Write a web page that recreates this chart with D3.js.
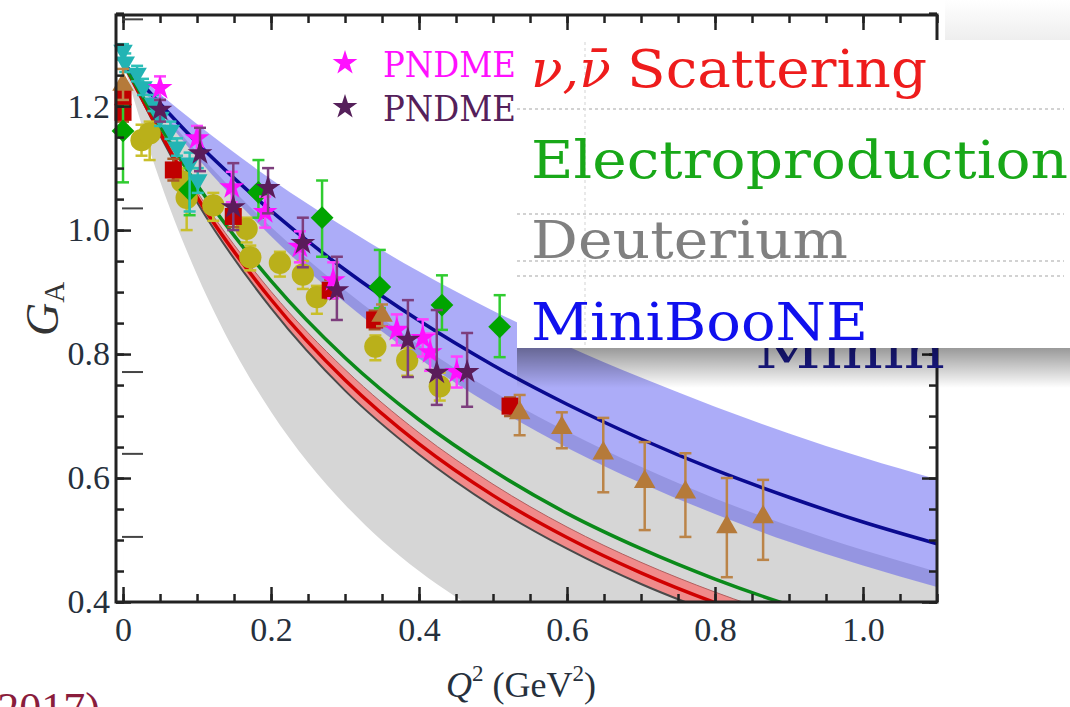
<!DOCTYPE html>
<html>
<head>
<meta charset="UTF-8">
<title>Axial form factor</title>
<script src="https://cdnjs.cloudflare.com/ajax/libs/d3/7.8.5/d3.min.js"></script>
<style>body{margin:0;background:#fff;}</style>
</head>
<body>
<div id="chart"></div>
<script>

// ---- curves (Q^2 grid 0 .. 1.1) ----
var qGrid   = [0, 0.1, 0.2, 0.3, 0.4, 0.5, 0.6, 0.7, 0.8, 0.9, 1.0, 1.1];
var blueMid = [1.27, 1.141, 1.031, 0.936, 0.854, 0.782, 0.719, 0.663, 0.613, 0.569, 0.529, 0.494];
var blueHi  = [1.27, 1.171, 1.082, 1.004, 0.933, 0.870, 0.813, 0.762, 0.715, 0.672, 0.633, 0.598];
var blueLo  = [1.27, 1.117, 0.990, 0.883, 0.793, 0.716, 0.649, 0.592, 0.542, 0.497, 0.459, 0.424];
var grayHi  = [1.27, 1.126, 1.005, 0.903, 0.815, 0.740, 0.675, 0.618, 0.567, 0.523, 0.484, 0.449];
var redMid  = [1.27, 1.053, 0.888, 0.758, 0.655, 0.572, 0.504, 0.447, 0.399, 0.359, 0.324, 0.294];
var redHi   = [1.27, 1.062, 0.901, 0.775, 0.673, 0.590, 0.521, 0.464, 0.416, 0.375, 0.340, 0.309];
var redLo   = [1.27, 1.045, 0.874, 0.741, 0.638, 0.554, 0.486, 0.429, 0.382, 0.342, 0.308, 0.279];
var greenMid= [1.27, 1.073, 0.918, 0.794, 0.694, 0.612, 0.543, 0.486, 0.437, 0.395, 0.359, 0.327];
var grayLoQ = [0, 0.05, 0.1, 0.15, 0.2, 0.25, 0.3, 0.35, 0.4, 0.45, 0.5, 0.6];
var grayLo  = [1.27, 1.079, 0.928, 0.806, 0.707, 0.625, 0.557, 0.499, 0.450, 0.408, 0.371, 0.311];

// ---- data points: [Q2, GA, low, high] ----
var cyanPts = [
  [0.000,1.290,1.275,1.300],[0.003,1.271,1.255,1.285],[0.019,1.253,1.240,1.265],
  [0.027,1.231,1.218,1.244],[0.041,1.205,1.192,1.218],[0.050,1.182,1.168,1.196],
  [0.064,1.161,1.147,1.175],[0.073,1.134,1.120,1.148],[0.090,1.108,1.030,1.125],
  [0.101,1.081,1.060,1.100]
];
var yellowPts = [
  [0.025,1.145,1.120,1.170],[0.036,1.156,1.113,1.175],[0.080,1.078,1.050,1.100],
  [0.086,1.052,1.000,1.070],[0.122,1.040,1.015,1.060],[0.167,1.002,0.980,1.020],
  [0.172,0.956,0.935,0.975],[0.212,0.947,0.925,0.965],[0.243,0.928,0.905,0.950],
  [0.262,0.892,0.865,0.910],[0.341,0.812,0.790,0.830],[0.384,0.790,0.765,0.810],
  [0.428,0.748,0.725,0.770]
];
var redPts = [
  [0.000,1.215,1.200,1.230],[0.000,1.190,1.175,1.205],[0.068,1.097,1.080,1.115],
  [0.149,1.022,1.005,1.040],[0.280,0.903,0.890,0.920],[0.340,0.855,0.840,0.870],
  [0.523,0.716,0.700,0.730]
];
var greenPts = [
  [0.000,1.160,1.077,1.200],[0.090,1.065,1.024,1.100],[0.183,1.061,1.020,1.113],
  [0.269,1.020,0.957,1.080],[0.347,0.908,0.874,0.968],[0.431,0.879,0.839,0.927],
  [0.509,0.844,0.795,0.895]
];
var brownPts = [
  [0.000,1.235,1.210,1.260],[0.350,0.862,0.845,0.880],[0.536,0.705,0.669,0.734],
  [0.593,0.681,0.648,0.706],[0.649,0.640,0.577,0.697],[0.705,0.594,0.516,0.658],
  [0.760,0.577,0.505,0.640],[0.816,0.521,0.440,0.600],[0.865,0.537,0.468,0.597]
];
var magentaPts = [
  [0.050,1.229,1.210,1.248],[0.100,1.148,1.128,1.168],[0.147,1.069,1.045,1.094],
  [0.192,1.029,1.004,1.054],[0.239,0.973,0.948,0.998],[0.284,0.919,0.890,0.948],
  [0.370,0.839,0.814,0.864],[0.405,0.826,0.796,0.856],[0.415,0.803,0.773,0.833],
  [0.451,0.771,0.746,0.796]
];
var purplePts = [
  [0.050,1.194,1.175,1.210],[0.104,1.124,1.095,1.165],[0.149,1.037,1.000,1.108],
  [0.196,1.068,1.027,1.100],[0.243,0.979,0.940,1.020],[0.289,0.903,0.855,0.957],
  [0.385,0.823,0.763,0.887],[0.424,0.770,0.718,0.871],[0.465,0.771,0.715,0.834]
];

// ---- ticks and labels ----
var xMajor = [0, 0.2, 0.4, 0.6, 0.8, 1.0];
var xMinor = d3.range(0, 1.101, 0.05);
var yMajor = [0.4, 0.6, 0.8, 1.0, 1.2];
var yMinor = d3.range(0.4, 1.351, 0.05);
var ghostTicks = [1.34, 1.035, 0.771, 0.639, 0.505];
var legendRows = ["Scattering", "Electroproduction", "Deuterium", "MiniBooNE"];
var pndmeLabels = ["PNDME", "PNDME"];

var W = 1070, H = 707;
var svg = d3.select('#chart').append('svg').attr('width', W).attr('height', H);

var x = d3.scaleLinear().domain([-0.0095, 1.1]).range([116, 937]);
var y = d3.scaleLinear().domain([0.4, 1.347]).range([602, 15]);

var defs = svg.append('defs');
defs.append('clipPath').attr('id', 'plotClip').append('rect')
    .attr('x', 116).attr('y', 15).attr('width', 821).attr('height', 587);
var sg = defs.append('linearGradient').attr('id', 'shadowGrad')
    .attr('x1', 0).attr('y1', 0).attr('x2', 0).attr('y2', 1);
sg.append('stop').attr('offset', '0%').attr('stop-color', '#000').attr('stop-opacity', 0.4);
sg.append('stop').attr('offset', '100%').attr('stop-color', '#000').attr('stop-opacity', 0);
var tg = defs.append('linearGradient').attr('id', 'topGrad')
    .attr('x1', 0).attr('y1', 0).attr('x2', 0).attr('y2', 1);
tg.append('stop').attr('offset', '0%').attr('stop-color', '#fff');
tg.append('stop').attr('offset', '100%').attr('stop-color', '#eeeeee');

var plot = svg.append('g').attr('clip-path', 'url(#plotClip)');

function zipQ(qs, vals) { return qs.map(function(q, i){ return [q, vals[i]]; }); }

var areaDown = d3.area().x(function(d){ return x(d[0]); })
    .y0(y(0.2)).y1(function(d){ return y(d[1]); }).curve(d3.curveMonotoneX);
var bandArea = d3.area().x(function(d){ return x(d[0]); })
    .y0(function(d){ return y(d[1]); }).y1(function(d){ return y(d[2]); }).curve(d3.curveMonotoneX);
var line = d3.line().x(function(d){ return x(d[0]); }).y(function(d){ return y(d[1]); })
    .curve(d3.curveMonotoneX);

// Deuterium band (gray)
plot.append('path').attr('d', areaDown(zipQ(qGrid, grayHi))).attr('fill', '#d6d6d6');
plot.append('path').attr('d', areaDown(zipQ(grayLoQ, grayLo))).attr('fill', '#fff');

// MiniBooNE band
var blueBand = qGrid.map(function(q, i){ return [q, blueLo[i], blueHi[i]]; });
plot.append('path').attr('d', bandArea(blueBand)).attr('fill', '#4848f0').attr('fill-opacity', 0.45);

// scattering band
var redBand = qGrid.map(function(q, i){ return [q, redLo[i], redHi[i]]; });
plot.append('path').attr('d', bandArea(redBand)).attr('fill', '#f08a8a');
plot.append('path').attr('d', line(zipQ(qGrid, redLo))).attr('fill', 'none')
    .attr('stroke', '#4a4a4a').attr('stroke-width', 2);
plot.append('path').attr('d', line(zipQ(qGrid, redHi))).attr('fill', 'none')
    .attr('stroke', '#b06060').attr('stroke-width', 1);
plot.append('path').attr('d', line(zipQ(qGrid, redMid))).attr('fill', 'none')
    .attr('stroke', '#d00000').attr('stroke-width', 3.5);
plot.append('path').attr('d', line(zipQ(qGrid, greenMid))).attr('fill', 'none')
    .attr('stroke', '#0b8a1a').attr('stroke-width', 3.5);
plot.append('path').attr('d', line(zipQ(qGrid, blueMid))).attr('fill', 'none')
    .attr('stroke', '#0a0a90').attr('stroke-width', 3.5);

// ---- data series ----
function drawSeries(data, sym, size, rot, fill, barColor) {
    var g = svg.append('g');
    var cap = 6;
    g.selectAll('line.bar').data(data).enter().append('line')
        .attr('x1', function(d){ return x(d[0]); }).attr('x2', function(d){ return x(d[0]); })
        .attr('y1', function(d){ return y(d[2]); }).attr('y2', function(d){ return y(d[3]); })
        .attr('stroke', barColor).attr('stroke-width', 2.5);
    [2, 3].forEach(function(k){
        g.selectAll('line.cap' + k).data(data).enter().append('line')
            .attr('x1', function(d){ return x(d[0]) - cap; }).attr('x2', function(d){ return x(d[0]) + cap; })
            .attr('y1', function(d){ return y(d[k]); }).attr('y2', function(d){ return y(d[k]); })
            .attr('stroke', barColor).attr('stroke-width', 2.5);
    });
    var s = d3.symbol().type(sym).size(size);
    g.selectAll('path.pt').data(data).enter().append('path')
        .attr('d', s)
        .attr('transform', function(d){ return 'translate(' + x(d[0]) + ',' + y(d[1]) + ') rotate(' + rot + ')'; })
        .attr('fill', fill);
}

drawSeries(yellowPts, d3.symbolCircle, 390, 0, '#bab01a', '#c9bf2a');
drawSeries(redPts, d3.symbolSquare, 290, 0, '#c00000', '#a85a2a');
drawSeries(greenPts, d3.symbolSquare, 260, 45, '#00a400', '#30cc30');
drawSeries(cyanPts, d3.symbolTriangle, 165, 180, '#22b4b4', '#2cc0b8');
drawSeries(brownPts, d3.symbolTriangle, 200, 0, '#b57a3a', '#bb8448');
drawSeries(magentaPts, d3.symbolStar, 190, 0, '#ff10ff', '#ff40ff');
drawSeries(purplePts, d3.symbolStar, 190, 0, '#5a1c5a', '#7d3e7d');

// ---- axes ----
var ax = svg.append('g').attr('class', 'axes');
function styleAxis(sel) {
    sel.select('.domain').remove();
    sel.selectAll('.tick line').attr('stroke', '#222').attr('stroke-width', 2.5);
}
var fmtX = function(d){ return d === 0 ? '0' : d3.format('.1f')(d); };

var xb = ax.append('g').attr('transform', 'translate(0,602)')
    .call(d3.axisBottom(x).tickValues(xMajor).tickSize(-15).tickFormat(fmtX));
styleAxis(xb);
xb.selectAll('text').attr('dy', null).attr('y', 39)
    .attr('font-family', 'Liberation Serif').attr('font-size', 34).attr('fill', '#26303c');
var xb2 = ax.append('g').attr('transform', 'translate(0,602)')
    .call(d3.axisBottom(x).tickValues(xMinor).tickSize(-8).tickFormat(''));
styleAxis(xb2);
var xt = ax.append('g').attr('transform', 'translate(0,15)')
    .call(d3.axisTop(x).tickValues(xMajor).tickSize(-15).tickFormat(''));
styleAxis(xt);
var xt2 = ax.append('g').attr('transform', 'translate(0,15)')
    .call(d3.axisTop(x).tickValues(xMinor).tickSize(-8).tickFormat(''));
styleAxis(xt2);

var yl = ax.append('g').attr('transform', 'translate(116,0)')
    .call(d3.axisLeft(y).tickValues(yMajor).tickSize(-15).tickPadding(6).tickFormat(d3.format('.1f')));
styleAxis(yl);
yl.selectAll('text').attr('font-family', 'Liberation Serif').attr('font-size', 34).attr('fill', '#26303c');
var yl2 = ax.append('g').attr('transform', 'translate(116,0)')
    .call(d3.axisLeft(y).tickValues(yMinor).tickSize(-8).tickFormat(''));
styleAxis(yl2);
var yr = ax.append('g').attr('transform', 'translate(937,0)')
    .call(d3.axisRight(y).tickValues(yMajor).tickSize(-15).tickFormat(''));
styleAxis(yr);
var yr2 = ax.append('g').attr('transform', 'translate(937,0)')
    .call(d3.axisRight(y).tickValues(yMinor).tickSize(-8).tickFormat(''));
styleAxis(yr2);

// stray dashes next to the left axis
ax.selectAll('line.ghost').data(ghostTicks).enter().append('line')
    .attr('x1', 122).attr('x2', 143).attr('y1', function(d){ return y(d); }).attr('y2', function(d){ return y(d); })
    .attr('stroke', '#444').attr('stroke-width', 2);

// frame
ax.append('rect').attr('x', 116).attr('y', 15).attr('width', 821).attr('height', 587)
    .attr('fill', 'none').attr('stroke', '#222').attr('stroke-width', 3);

// axis titles
var xt_ = svg.append('text').attr('x', 446).attr('y', 697)
    .attr('font-family', 'Liberation Serif').attr('font-size', 36).attr('fill', '#26303c');
xt_.append('tspan').attr('font-style', 'italic').text('Q');
xt_.append('tspan').attr('font-size', 23).attr('dy', -16).text('2');
xt_.append('tspan').attr('dy', 16).text(' (GeV');
xt_.append('tspan').attr('font-size', 23).attr('dy', -16).text('2');
xt_.append('tspan').attr('dy', 16).text(')');

var yt = svg.append('text').attr('transform', 'translate(58,336) rotate(-90)')
    .attr('font-family', 'Liberation Serif').attr('font-size', 46).attr('fill', '#333');
yt.append('tspan').attr('font-style', 'italic').text('G');
yt.append('tspan').attr('font-size', 29).attr('dy', 6).text('A');

// PNDME legend
var pColors = ['#ff10ff', '#55205a'];
var pBase = [77, 121];
pndmeLabels.forEach(function(t, i){
    svg.append('path').attr('d', d3.symbol().type(d3.symbolStar).size(190)())
        .attr('transform', 'translate(345,' + (pBase[i] - 14) + ')').attr('fill', pColors[i]);
    svg.append('text').attr('x', 383).attr('y', pBase[i]).text(t)
        .attr('font-family', 'DejaVu Serif').attr('font-size', 36)
        .attr('textLength', 133).attr('lengthAdjust', 'spacingAndGlyphs')
        .attr('fill', pColors[i]);
});

// partially hidden text under the legend box
svg.append('text').attr('x', 755).attr('y', 368).text('Minin')
    .attr('font-family', 'DejaVu Serif').attr('font-size', 52)
    .attr('textLength', 190).attr('lengthAdjust', 'spacingAndGlyphs').attr('fill', '#1c1c96');

// light band above box on the right, shadow under the box
svg.append('rect').attr('x', 945).attr('y', 0).attr('width', 125).attr('height', 40).attr('fill', 'url(#topGrad)');
svg.append('rect').attr('x', 517).attr('y', 348).attr('width', 553).attr('height', 40).attr('fill', 'url(#shadowGrad)');

// legend box
var lb = svg.append('g');
lb.append('rect').attr('x', 517).attr('y', 40).attr('width', 547).attr('height', 308).attr('fill', '#fff');
[109, 214, 261, 276].forEach(function(yy){
    lb.append('line').attr('x1', 517).attr('x2', 1064).attr('y1', yy).attr('y2', yy)
        .attr('stroke', '#c4c4c4').attr('stroke-width', 1.5).attr('stroke-dasharray', '3,3');
});
lb.append('line').attr('x1', 585).attr('x2', 585).attr('y1', 42).attr('y2', 346)
    .attr('stroke', '#e2e2e2').attr('stroke-width', 1.5).attr('stroke-dasharray', '3,3');

var rowBase = [87, 178, 258, 340];
var rowColor = ['#ee1c1c', '#18a818', '#808080', '#1010ee'];
var rowWidth = [300, 537, 317, 337];
var sc = lb.append('text').attr('x', 531).attr('y', rowBase[0])
    .attr('font-family', 'DejaVu Serif').attr('font-size', 52).attr('fill', rowColor[0]);
sc.append('tspan').attr('font-style', 'italic').text('\u03bd,\u03bd\u0304');
sc.append('tspan').attr('x', 627).attr('textLength', rowWidth[0]).attr('lengthAdjust', 'spacingAndGlyphs')
    .text(legendRows[0]);
legendRows.slice(1).forEach(function(t, i){
    lb.append('text').attr('x', 531).attr('y', rowBase[i + 1]).text(t)
        .attr('font-family', 'DejaVu Serif').attr('font-size', 52)
        .attr('textLength', rowWidth[i + 1]).attr('lengthAdjust', 'spacingAndGlyphs')
        .attr('fill', rowColor[i + 1]);
});

// cut-off caption at bottom left
svg.append('text').attr('x', 100).attr('y', 723).attr('text-anchor', 'end').text('2017)')
    .attr('font-family', 'Liberation Serif').attr('font-size', 44).attr('fill', '#8a1c3c');

</script>
</body>
</html>
